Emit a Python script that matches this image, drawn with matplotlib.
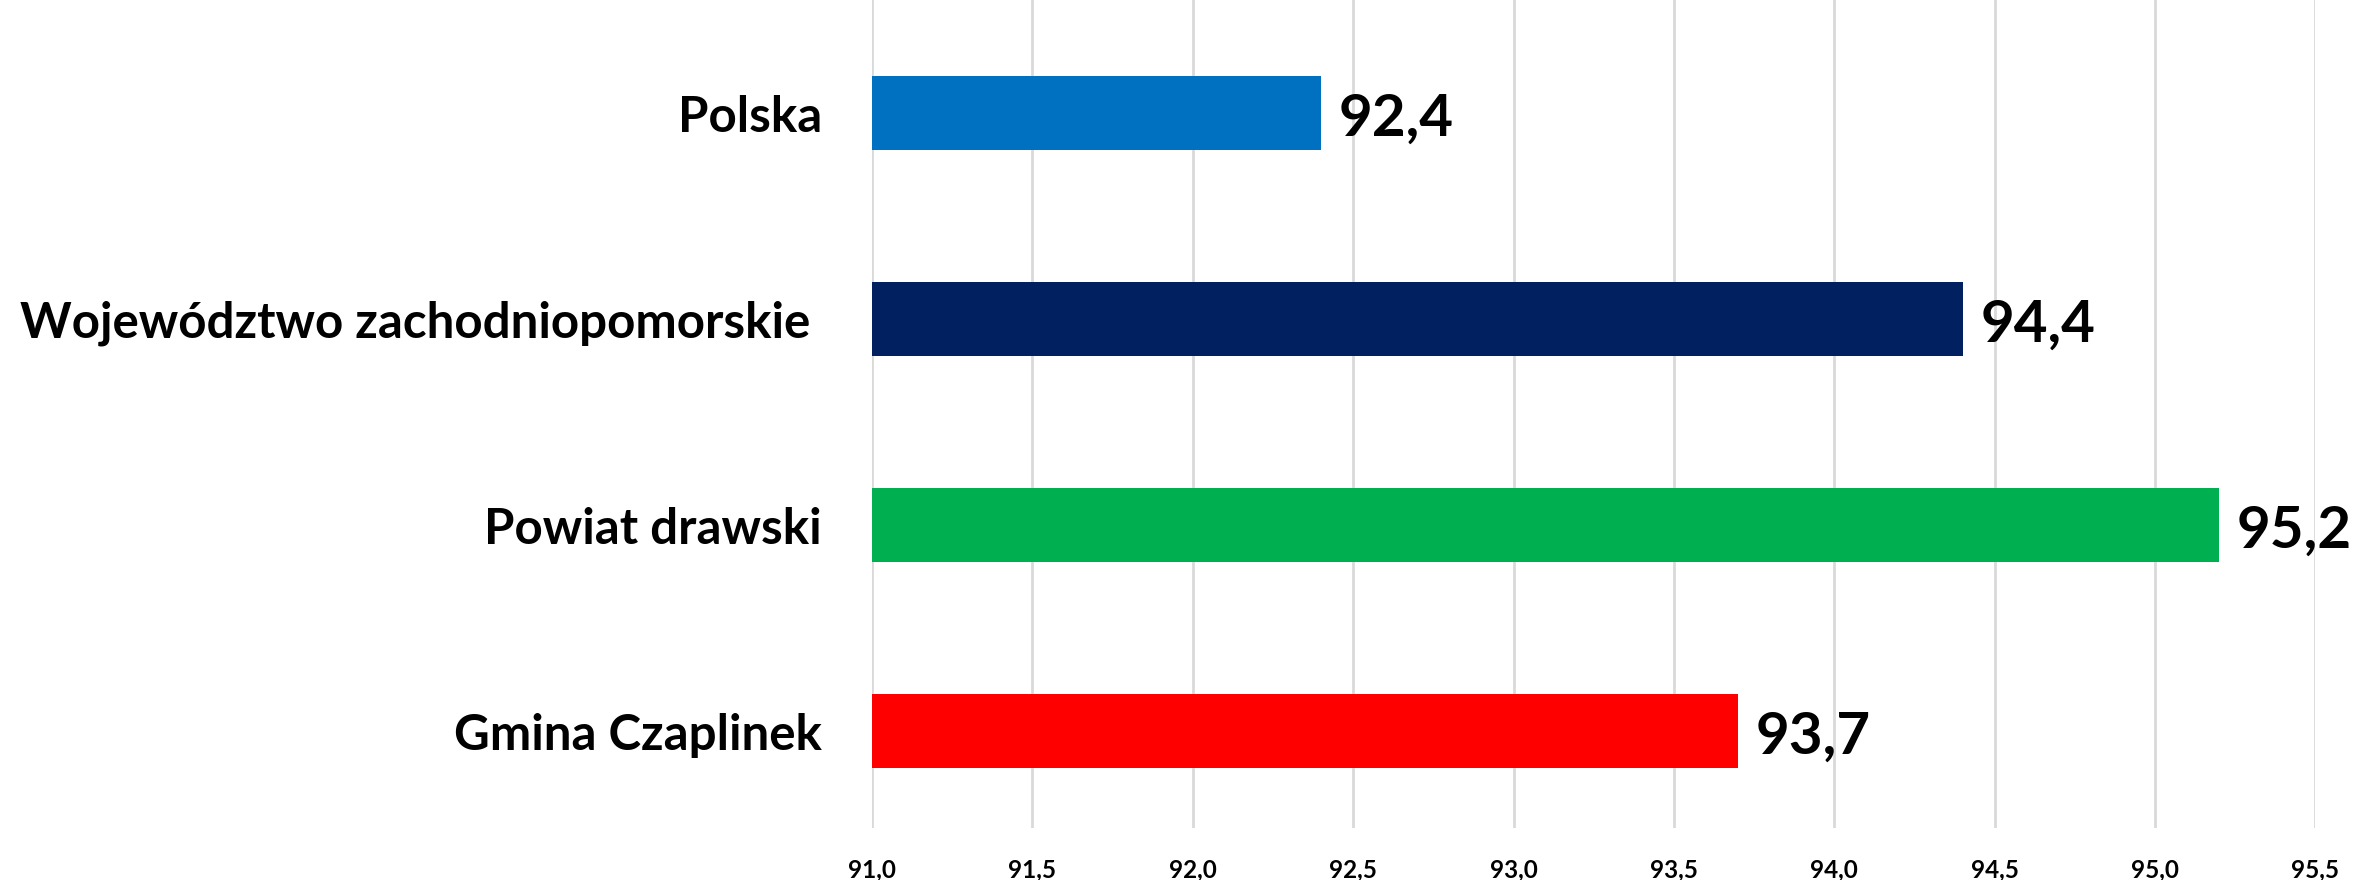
import matplotlib
matplotlib.use("Agg")
import matplotlib.pyplot as plt
from matplotlib.ticker import FuncFormatter

# data
categories = ["Polska", "Województwo zachodniopomorskie ", "Powiat drawski", "Gmina Czaplinek"]
values = [92.4, 94.4, 95.2, 93.7]
colors = ["#0070C0", "#002060", "#00B050", "#FF0000"]
xticks = [91.0, 91.5, 92.0, 92.5, 93.0, 93.5, 94.0, 94.5, 95.0, 95.5]

plt.rcParams["font.family"] = ["Lato", "DejaVu Sans"]
plt.rcParams["font.weight"] = "bold"

fig = plt.figure(figsize=(23.53, 8.8), dpi=100)
ax = fig.add_axes([0.3706, 0.059, 0.6134, 0.941])

base = 91.0
ypos = list(range(len(categories)))
widths = [v - base for v in values]
ax.barh(ypos, widths, left=base, height=0.36, color=colors, zorder=3)

for y, v in zip(ypos, values):
    ax.text(v + 0.055, y + 0.03, f"{v:.1f}".replace(".", ","), va="center", ha="left",
            fontsize=42, fontweight="bold", color="black", zorder=4)

ax.set_xlim(91.0, 95.5)
ax.set_ylim(3.47, -0.55)
ax.set_xticks(xticks)
ax.xaxis.set_major_formatter(FuncFormatter(lambda x, p: f"{x:.1f}".replace(".", ",")))
ax.set_yticks(ypos)
ax.set_yticklabels(categories, fontsize=35.5, fontweight="bold")
ax.tick_params(axis="y", length=0, pad=36)
ax.tick_params(axis="x", length=0, pad=22, labelsize=17.5)
for lab in ax.get_xticklabels():
    lab.set_fontweight("bold")

ax.grid(axis="x", color="#D9D9D9", linewidth=2, zorder=0)
for s in ax.spines.values():
    s.set_visible(False)

fig.savefig("out.png", dpi=100)
